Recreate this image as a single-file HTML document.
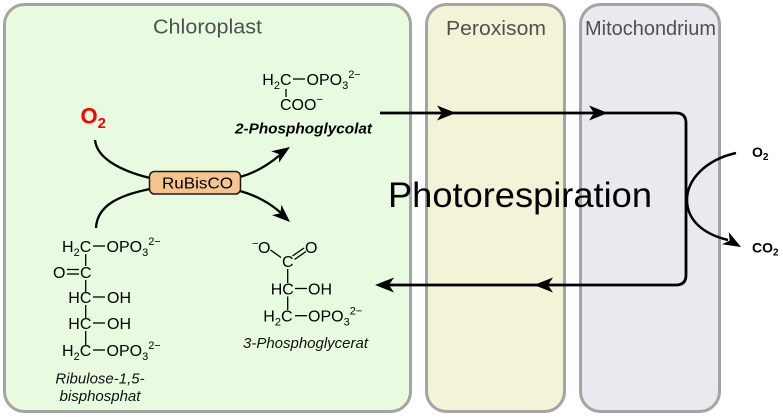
<!DOCTYPE html>
<html>
<head>
<meta charset="utf-8">
<style>
html,body{margin:0;padding:0;background:#fff;}
svg{display:block;}
text{font-family:"Liberation Sans",Arial,sans-serif;}
</style>
</head>
<body>
<svg width="783" height="417" viewBox="0 0 783 417" xmlns="http://www.w3.org/2000/svg">
  <!-- compartments -->
  <rect x="4.5" y="4.5" width="406" height="407" rx="20" ry="20" fill="#e8fbe0" stroke="#a4a4a4" stroke-width="3"/>
  <rect x="426.5" y="4.5" width="138" height="407" rx="20" ry="20" fill="#f4f2d7" stroke="#a4a4a4" stroke-width="3"/>
  <rect x="580.5" y="4.5" width="139" height="407" rx="20" ry="20" fill="#ece8f0" stroke="#a4a4a4" stroke-width="3"/>

  <text x="153" y="33.5" font-size="20" fill="#505050" textLength="109" lengthAdjust="spacingAndGlyphs">Chloroplast</text>
  <text x="446" y="35" font-size="20" fill="#505050" textLength="100" lengthAdjust="spacingAndGlyphs">Peroxisom</text>
  <text x="585" y="35" font-size="20" fill="#505050" textLength="131" lengthAdjust="spacingAndGlyphs">Mitochondrium</text>

  <!-- Photorespiration text -->
  <text x="388" y="207" font-size="35" fill="#000" textLength="264" lengthAdjust="spacingAndGlyphs">Photorespiration</text>

  <!-- main loop -->
  <path d="M380 113 H676 Q686 113 686 123 V275 Q686 285 676 285 H385" fill="none" stroke="#000" stroke-width="2.8"/>
  <polygon points="456,113 437,105.5 442,113 437,120.5" fill="#000"/>
  <polygon points="608,113 589,105.5 594,113 589,120.5" fill="#000"/>
  <polygon points="534,285 553,277.5 548,285 553,292.5" fill="#000"/>
  <polygon points="375,285 394,277.5 389,285 394,292.5" fill="#000"/>

  <!-- mito O2 / CO2 -->
  <path d="M736 153 C705 160 687 180 687 200 C687 220 703 234 728 240" fill="none" stroke="#000" stroke-width="2.5"/>
  <polygon points="741,247 721.9,244.3 729.7,240.6 728.7,232.1" fill="#000"/>
  <text x="752" y="157" font-size="14" font-weight="bold" fill="#000">O<tspan font-size="10" dy="3">2</tspan></text>
  <text x="752" y="252.5" font-size="14" font-weight="bold" fill="#000">CO<tspan font-size="10" dy="3">2</tspan></text>

  <!-- red O2 -->
  <text x="80.5" y="123.5" font-size="22" font-weight="bold" fill="#ff0000">O<tspan font-size="15" dy="4.5">2</tspan></text>

  <!-- RuBisCO curves -->
  <path d="M95 140 C97 160 125 172 150 178" fill="none" stroke="#000" stroke-width="2.3"/>
  <path d="M150 189 C120 195 97 205 96 228" fill="none" stroke="#000" stroke-width="2.3"/>
  <path d="M240 177 C255 173 268 165 280 155" fill="none" stroke="#000" stroke-width="2.3"/>
  <polygon points="290,147 271.2,151.2 279.2,154.2 278.9,162.8" fill="#000"/>
  <path d="M240 191 C255 195 270 203 281 213" fill="none" stroke="#000" stroke-width="2.3"/>
  <polygon points="290,222 281.4,204.7 280.4,213.3 272,215.1" fill="#000"/>

  <!-- RuBisCO box -->
  <rect x="149.5" y="171.5" width="91" height="22.5" rx="5" ry="5" fill="#f5c48f" stroke="#1a1a1a" stroke-width="1.5"/>
  <text x="162" y="188.3" font-size="16" fill="#000" textLength="71" lengthAdjust="spacingAndGlyphs">RuBisCO</text>

  <!-- 2-Phosphoglycolat -->
  <g fill="#000" font-size="16">
    <text x="262.3" y="85">H<tspan font-size="11" dy="4">2</tspan><tspan dy="-4">C</tspan></text>
    <line x1="293" y1="79" x2="305" y2="79" stroke="#000" stroke-width="1.3"/>
    <text x="306.5" y="85">OPO<tspan font-size="11" dy="4">3</tspan><tspan font-size="11" dy="-11">2−</tspan></text>
    <line x1="286" y1="89" x2="286" y2="97" stroke="#000" stroke-width="1.3"/>
    <text x="280" y="110">COO<tspan font-size="11" dy="-7">−</tspan></text>
  </g>
  <text x="235" y="133.3" font-size="15" font-weight="bold" font-style="italic" fill="#000" textLength="137" lengthAdjust="spacingAndGlyphs">2-Phosphoglycolat</text>

  <!-- Ribulose-1,5-bisphosphat -->
  <g fill="#000" font-size="16">
    <text x="62" y="252">H<tspan font-size="11" dy="4">2</tspan><tspan dy="-4">C</tspan></text>
    <line x1="93" y1="246" x2="105" y2="246" stroke="#000" stroke-width="1.3"/>
    <text x="106.5" y="252">OPO<tspan font-size="11" dy="4">3</tspan><tspan font-size="11" dy="-11">2−</tspan></text>
    <line x1="85.7" y1="254" x2="85.7" y2="266" stroke="#000" stroke-width="1.3"/>

    <text x="53" y="278">O</text>
    <line x1="67" y1="269.5" x2="79" y2="269.5" stroke="#000" stroke-width="1.3"/>
    <line x1="67" y1="274" x2="79" y2="274" stroke="#000" stroke-width="1.3"/>
    <text x="80" y="278">C</text>
    <line x1="85.7" y1="280" x2="85.7" y2="292" stroke="#000" stroke-width="1.3"/>

    <text x="68.3" y="303">HC</text>
    <line x1="93" y1="297" x2="105" y2="297" stroke="#000" stroke-width="1.3"/>
    <text x="107" y="303">OH</text>
    <line x1="85.7" y1="305" x2="85.7" y2="318" stroke="#000" stroke-width="1.3"/>

    <text x="68.3" y="329">HC</text>
    <line x1="93" y1="323" x2="105" y2="323" stroke="#000" stroke-width="1.3"/>
    <text x="107" y="329">OH</text>
    <line x1="85.7" y1="331" x2="85.7" y2="345" stroke="#000" stroke-width="1.3"/>

    <text x="62" y="356">H<tspan font-size="11" dy="4">2</tspan><tspan dy="-4">C</tspan></text>
    <line x1="93" y1="350" x2="105" y2="350" stroke="#000" stroke-width="1.3"/>
    <text x="106.5" y="356">OPO<tspan font-size="11" dy="4">3</tspan><tspan font-size="11" dy="-11">2−</tspan></text>
  </g>
  <text x="100" y="383.5" font-size="15" font-style="italic" fill="#111" text-anchor="middle">Ribulose-1,5-</text>
  <text x="100" y="401" font-size="15" font-style="italic" fill="#111" text-anchor="middle">bisphosphat</text>

  <!-- 3-Phosphoglycerat -->
  <g fill="#000" font-size="16">
    <text x="252" y="247" font-size="11">−</text>
    <text x="258" y="253">O</text>
    <line x1="270.5" y1="250" x2="281" y2="257.5" stroke="#000" stroke-width="1.3"/>
    <text x="282" y="267">C</text>
    <line x1="292.5" y1="256" x2="304" y2="248" stroke="#000" stroke-width="1.3"/>
    <line x1="294.5" y1="259.5" x2="306" y2="251.5" stroke="#000" stroke-width="1.3"/>
    <text x="305" y="253">O</text>
    <line x1="287.7" y1="269" x2="287.7" y2="283" stroke="#000" stroke-width="1.3"/>

    <text x="270.7" y="294.5">HC</text>
    <line x1="295" y1="288.5" x2="307" y2="288.5" stroke="#000" stroke-width="1.3"/>
    <text x="308" y="294.5">OH</text>
    <line x1="287.7" y1="296.5" x2="287.7" y2="310" stroke="#000" stroke-width="1.3"/>

    <text x="263.3" y="321.7">H<tspan font-size="11" dy="4">2</tspan><tspan dy="-4">C</tspan></text>
    <line x1="295" y1="315.7" x2="307" y2="315.7" stroke="#000" stroke-width="1.3"/>
    <text x="308" y="321.7">OPO<tspan font-size="11" dy="4">3</tspan><tspan font-size="11" dy="-11">2−</tspan></text>
  </g>
  <text x="243" y="348" font-size="15" font-style="italic" fill="#111" textLength="125" lengthAdjust="spacingAndGlyphs">3-Phosphoglycerat</text>
</svg>
</body>
</html>
